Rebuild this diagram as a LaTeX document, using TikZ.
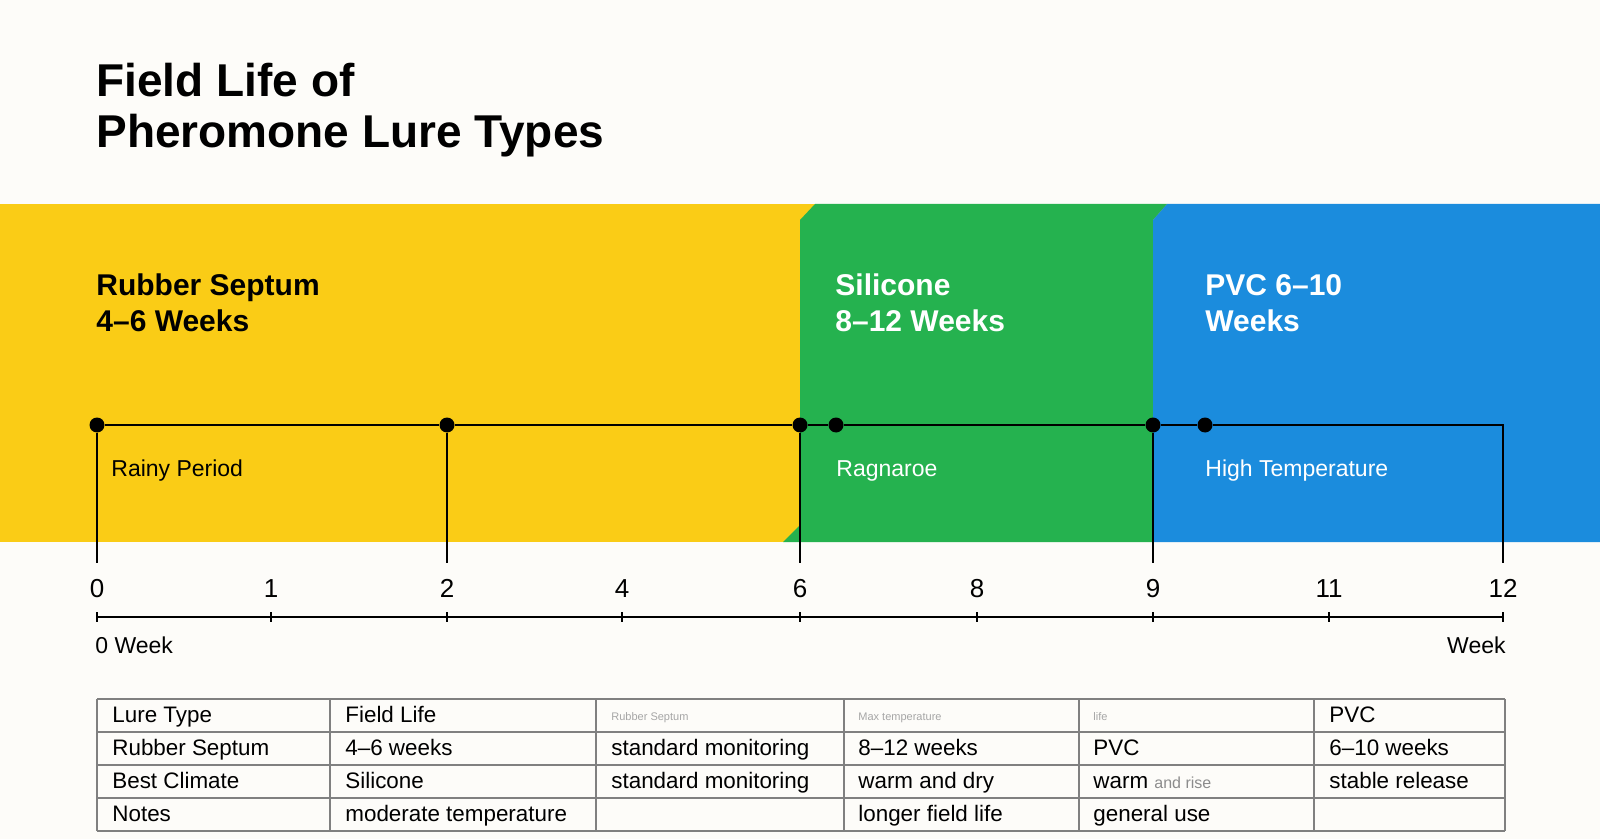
\documentclass[tikz,border=0pt]{standalone}
\usepackage{fontspec}
\setmainfont{Liberation Sans}
\definecolor{septum}{HTML}{FACC16}
\definecolor{silicone}{HTML}{25B24F}
\definecolor{pvc}{HTML}{1B8CDD}
\definecolor{paper}{HTML}{FDFCF9}
\begin{document}
\begin{tikzpicture}[x=0.5pt,y=-0.5pt,
  dot/.style={circle,fill=black,inner sep=0pt,minimum size=7.5pt},
  band/.style={font=\fontsize{15}{18}\selectfont\bfseries,anchor=base west,align=left,inner sep=0pt},
  cond/.style={font=\fontsize{11.5}{14}\selectfont,anchor=base west,inner sep=0pt},
  num/.style={font=\fontsize{13}{15}\selectfont,anchor=base,inner sep=0pt},
  cell/.style={font=\fontsize{11.2}{12}\selectfont,anchor=base west,inner sep=0pt},
  faint/.style={font=\fontsize{5.5}{6}\selectfont,text=black!35,anchor=base west,inner sep=0pt}]
\useasboundingbox (0,0) rectangle (1600,839);
\fill[paper] (0,0) rectangle (1600,839);
\node[anchor=base west,inner sep=0pt,align=left,font=\fontsize{23}{25.5}\selectfont\bfseries] (title) at (96,148) {Field Life of\\Pheromone Lure Types};

% the three bands
\fill[septum] (0,204) rectangle (1600,542);
\fill[silicone] (815,204) -- (1167,204) -- (1153,220) -- (1153,542) -- (783,542) -- (800,525) -- (800,220) -- cycle;
\fill[pvc] (1167,204) -- (1600,204) -- (1600,542) -- (1153,542) -- (1153,220) -- cycle;
\node[band] (rubber) at (96,332) {Rubber Septum\\4--6 Weeks};
\node[band,text=white] (sil) at (835,332) {Silicone\\8--12 Weeks};
\node[band,text=white] (pvchead) at (1205,332) {PVC 6--10\\Weeks};

% timeline
\node[dot] (t0) at (97,425) {};
\node[dot] (t2) at (447,425) {};
\node[dot] (t6) at (800,425) {};
\node[dot] (s1) at (836,425) {};
\node[dot] (t9) at (1153,425) {};
\node[dot] (p1) at (1205,425) {};
\coordinate (tend) at (1503,425);
\coordinate (tendb) at (1503,563);
\draw[line width=1pt] (t0) -- (t2) -- (t6) -- (s1) -- (t9) -- (p1) -- (tend) -- (tendb);
\foreach \n in {t0,t2,t6,t9}
  \draw[line width=0.7pt] (\n) -- (\n |- tendb);
\node[cond] (rain) at (111,476) {Rainy Period};
\node[cond,text=white] (rag) at (836,476) {Ragnaroe};
\node[cond,text=white] (hot) at (1205,476) {High Temperature};

% week axis
\foreach \x/\w in {97/0,271/1,447/2,622/4,800/6,977/8,1153/9,1329/11,1503/12}{
  \node[num] (n\w) at (\x,597) {\w};
  \draw[line width=1pt] (\x,612) -- (\x,622);
}
\coordinate (a0) at (97,617);
\coordinate (a12) at (1503,617);
\draw[line width=1pt] (a0) -- (a12);
\node[cell,font=\fontsize{11.5}{14}\selectfont] (wk0) at (95,653) {0 Week};
\node[cell,font=\fontsize{11.5}{14}\selectfont,anchor=base east] (wk) at (1506,653) {Week};

% table
\foreach \y in {699,732,765,798,831}
  \draw[black!50,line width=0.6pt] (97,\y) -- (1505,\y);
\foreach \x in {97,330,596,844,1079,1314,1505}
  \draw[black!50,line width=0.6pt] (\x,699) -- (\x,831);
\node[cell] (h1) at (112,722) {Lure Type};
\node[cell] (h2) at (345,722) {Field Life};
\node[faint] (h3) at (611,720) {Rubber Septum};
\node[faint] (h4) at (858,720) {Max temperature};
\node[faint] (h5) at (1093,720) {life};
\node[cell] (h6) at (1329,722) {PVC};
\foreach \txt [count=\c] in {Rubber Septum,4--6 weeks,standard monitoring,8--12 weeks,PVC,6--10 weeks}
  \node[cell] (r\c) at ({{112,345,611,858,1093,1329}[\c-1]},755) {\txt};
\foreach \txt [count=\c] in {Best Climate,Silicone,standard monitoring,warm and dry,,stable release}
  \node[cell] (c\c) at ({{112,345,611,858,1093,1329}[\c-1]},788) {\txt};
\node[cell] (c5) at (1093,788) {warm \textcolor{black!45}{\fontsize{8}{9}\selectfont and rise}};
\foreach \txt [count=\c] in {Notes,moderate temperature,,longer field life,general use,}
  \node[cell] (o\c) at ({{112,345,611,858,1093,1329}[\c-1]},821) {\txt};
\end{tikzpicture}
\end{document}
